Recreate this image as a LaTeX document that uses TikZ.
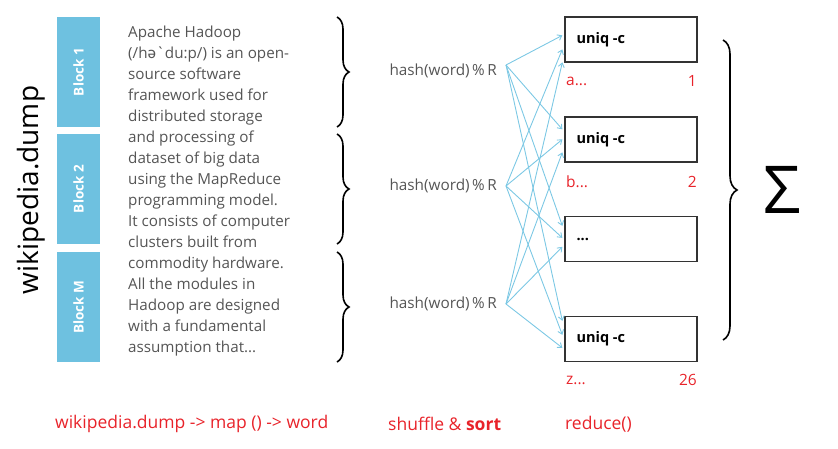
\documentclass[tikz,border=0pt]{standalone}
\usepackage{fontspec}
\setmainfont{Open Sans}
\newfontfamily\ipafont{Noto Sans}
\usetikzlibrary{arrows.meta,decorations.pathreplacing,calc}
\definecolor{blockblue}{HTML}{6EC1E0}
\definecolor{flowblue}{HTML}{7CC8E4}
\definecolor{myred}{HTML}{E8232A}
\definecolor{txtgray}{HTML}{555555}
\definecolor{boxgray}{HTML}{333333}
\begin{document}
\begin{tikzpicture}[x=1pt,y=-1pt,
  blockbox/.style={fill=blockblue, draw=none, rotate=90, minimum width=110pt, minimum height=43pt, inner sep=0pt,
     text=white, font=\fontsize{13.5}{16}\selectfont\bfseries},
  para/.style={anchor=base west, inner sep=0pt, text=txtgray, font=\fontsize{15.2}{18}\selectfont},
  hashlbl/.style={anchor=east, inner sep=0pt, text=txtgray, font=\fontsize{15.3}{18}\selectfont},
  rbox/.style={draw=boxgray, line width=1.3pt, minimum width=132pt, minimum height=45pt, inner sep=0pt},
  boxtxt/.style={anchor=west, inner sep=0pt, text=black, font=\fontsize{14.5}{16}\selectfont\bfseries},
  redlbl/.style={inner sep=0pt, text=myred, font=\fontsize{15.5}{18}\selectfont},
  caption/.style={inner sep=0pt, text=myred, font=\fontsize{17.5}{20}\selectfont, anchor=west},
  brc/.style={decorate, decoration={brace, amplitude=12pt}, line width=1.6pt},
  flow/.style={draw=flowblue, line width=0.9pt, -{Straight Barb[length=4pt,width=6pt]}}
]
\useasboundingbox (0,0) rectangle (838,448);

% title
\node[rotate=90, inner sep=0pt, font=\fontsize{28}{32}\selectfont] (title) at (31,190) {wikipedia.dump};

% blocks
\node[blockbox] (b1) at (78.5,72) {Block 1};
\node[blockbox] (b2) at (78.5,189) {Block 2};
\node[blockbox] (b3) at (78.5,307) {Block M};

% paragraph
\node[para] (p1) at (128,37) {Apache Hadoop};
\node[para] (p2) at (128,58) {(/h{\ipafont ə}\textasciigrave du:p/) is an open-};
\node[para] (p3) at (128,79) {source software};
\node[para] (p4) at (128,100) {framework used for};
\node[para] (p5) at (128,121) {distributed storage};
\node[para] (p6) at (128,142) {and processing of};
\node[para] (p7) at (128,163) {dataset of big data};
\node[para] (p8) at (128,184) {using the MapReduce};
\node[para] (p9) at (128,205) {programming model.};
\node[para] (p10) at (128,226) {It consists of computer};
\node[para] (p11) at (128,247) {clusters built from};
\node[para] (p12) at (128,268) {commodity hardware.};
\node[para] (p13) at (128,289) {All the modules in};
\node[para] (p14) at (128,310) {Hadoop are designed};
\node[para] (p15) at (128,331) {with a fundamental};
\node[para] (p16) at (128,352) {assumption that...};

% braces
\draw[brc] (337,17) coordinate (br1a) -- (337,127) coordinate (br1b);
\draw[brc] (337,134) coordinate (br2a) -- (337,244) coordinate (br2b);
\draw[brc] (337,252) coordinate (br3a) -- (337,362) coordinate (br3b);

% hash labels
\node[hashlbl] (h1) at (497,71) {hash(word)\,\%\,R};
\node[hashlbl] (h2) at (497,186) {hash(word)\,\%\,R};
\node[hashlbl] (h3) at (497,304) {hash(word)\,\%\,R};
\coordinate (o1) at (506,65);
\coordinate (o2) at (506,186);
\coordinate (o3) at (506,304);

% reducer boxes
\node[rbox] (r1) at (631,39.5) {};
\node[rbox] (r2) at (631,139.5) {};
\node[rbox] (r3) at (631,239) {};
\node[rbox] (r4) at (631,339) {};
\node[boxtxt] (t1) at ($(r1.west)+(12,0)$) {uniq -c};
\node[boxtxt] (t2) at ($(r2.west)+(12,0)$) {uniq -c};
\node[boxtxt] (t3) at ($(r3.west)+(12,0)$) {...};
\node[boxtxt] (t4) at ($(r4.west)+(12,0)$) {uniq -c};

% red labels under boxes
\node[redlbl, anchor=west] (la) at (566,81) {a...};
\node[redlbl, anchor=east] (na) at (697,81) {1};
\node[redlbl, anchor=west] (lb) at (566,182) {b...};
\node[redlbl, anchor=east] (nb) at (697,182) {2};
\node[redlbl, anchor=west] (lz) at (566,380) {z...};
\node[redlbl, anchor=east] (nz) at (697,380) {26};

% arrows
\draw[flow] (o1) -- ($(r1.north west)+(-2,19)$);
\draw[flow] (o2) -- ($(r1.north west)+(-2,33)$);
\draw[flow] (o3) -- ($(r1.north west)+(-2,46)$);
\draw[flow] (o1) -- ($(r2.north west)+(-2,13)$);
\draw[flow] (o2) -- ($(r2.north west)+(-2,23)$);
\draw[flow] (o3) -- ($(r2.north west)+(-2,36)$);
\draw[flow] (o1) -- ($(r3.north west)+(-2,10)$);
\draw[flow] (o2) -- ($(r3.north west)+(-2,22)$);
\draw[flow] (o3) -- ($(r3.north west)+(-2,31)$);
\draw[flow] (o1) -- ($(r4.north west)+(-2,5)$);
\draw[flow] (o2) -- ($(r4.north west)+(-2,19)$);
\draw[flow] (o3) -- ($(r4.north west)+(-2,32)$);

% big brace and sigma
\draw[brc, decoration={amplitude=14pt}] (723,40) coordinate (bb1) -- (723,340) coordinate (bb2);
\node[inner sep=0pt, font=\fontsize{66}{72}\selectfont] (sigma) at (782,190) {Σ};

% bottom captions
\node[caption] (c1) at (55,424) {wikipedia.dump -> map () -> word};
\node[caption] (c2) at (388,424) {shuffle \& \textbf{sort}};
\node[caption] (c3) at (565,424) {reduce()};
\end{tikzpicture}
\end{document}
